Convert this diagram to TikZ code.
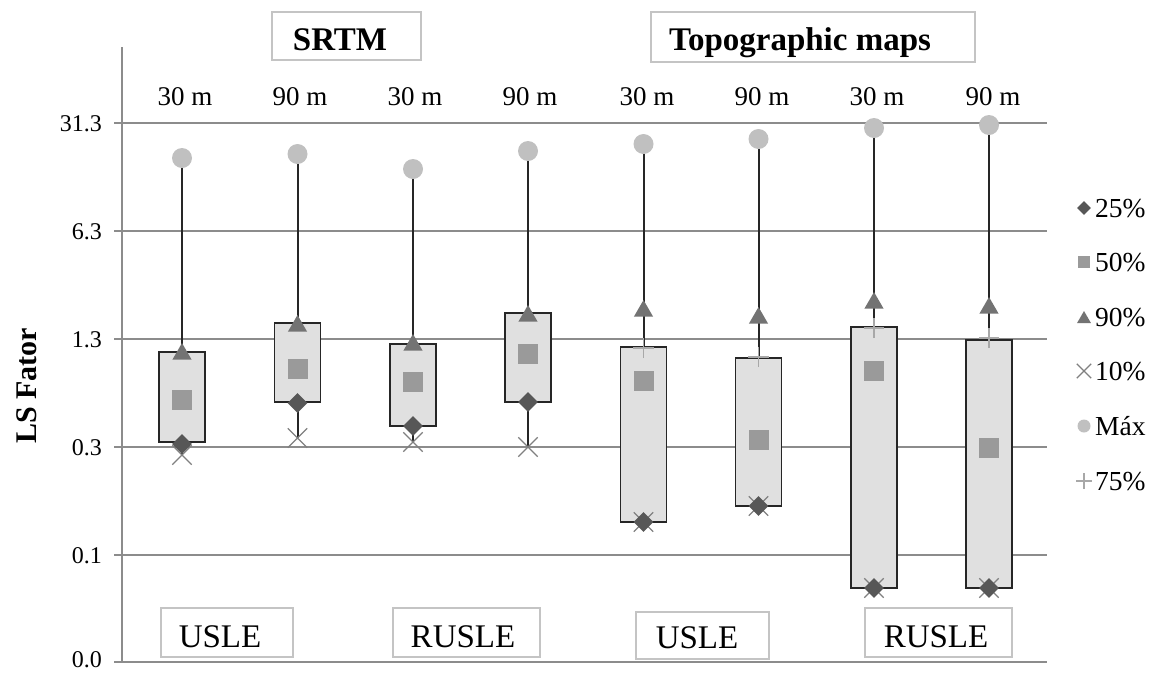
\documentclass[tikz,border=0pt]{standalone}
\usepackage{fontspec}
\setmainfont{Liberation Serif}
\usetikzlibrary{shapes.geometric,shapes.misc}
\definecolor{gridc}{HTML}{8C8C8C}
\definecolor{boxfill}{HTML}{E0E0E0}
\definecolor{c25}{HTML}{575757}
\definecolor{c50}{HTML}{9A9A9A}
\definecolor{c90}{HTML}{737373}
\definecolor{c10}{HTML}{808080}
\definecolor{cmax}{HTML}{C0C0C0}
\definecolor{c75}{HTML}{A8A8A8}
\definecolor{lbox}{HTML}{C4C4C4}
\tikzset{
  gridline/.style={draw=gridc, line width=1.6pt},
  whisker/.style={draw=black!85, line width=2pt},
  qbox/.style={draw=black!85, fill=boxfill, line width=1.8pt, minimum width=46pt, inner sep=0pt},
  m25/.style={diamond, fill=c25, minimum size=20pt, inner sep=0pt},
  m50/.style={rectangle, fill=c50, minimum size=20pt, inner sep=0pt},
  m90/.style={regular polygon, regular polygon sides=3, fill=c90, minimum size=22pt, inner sep=0pt},
  m10/.style={cross out, draw=c10, line width=1.3pt, minimum size=18pt, inner sep=0pt},
  mmax/.style={circle, fill=cmax, minimum size=20pt, inner sep=0pt},
  m75/.style={cross out, rotate=45, draw=c75, line width=1.3pt, minimum size=13pt, inner sep=0pt},
  lblbox/.style={draw=lbox, line width=1.5pt, inner sep=0pt},
  ticklbl/.style={font=\fontsize{24pt}{24pt}\selectfont, inner sep=0pt},
  collbl/.style={font=\fontsize{27pt}{27pt}\selectfont, inner sep=0pt, anchor=base},
  titlelbl/.style={font=\fontsize{33pt}{33pt}\selectfont\bfseries, inner sep=0pt, anchor=base},
  modellbl/.style={font=\fontsize{33pt}{33pt}\selectfont, inner sep=0pt, anchor=base},
  leglbl/.style={font=\fontsize{27.5pt}{27.5pt}\selectfont, inner sep=0pt, anchor=base west},
}
\begin{document}
\begin{tikzpicture}[x=1pt,y=-1pt]
\useasboundingbox (0,0) rectangle (1157,673);
% grid and axis
\foreach \y/\ly/\l in {123/124/31.3, 231/232/6.3, 339/340/1.3, 447/448/0.3, 555/556/0.1, 662/660/0.0}{
  \draw[gridline] (114,\y) -- (1047,\y);
  \node[ticklbl, anchor=east] at (102,\ly) {\l};
}
\draw[gridline] (122,47) -- (122,662);
\node[font=\fontsize{30pt}{30pt}\selectfont\bfseries, rotate=90, inner sep=0pt] (ylab) at (27,386) {LS Fator};
% titles
\node[lblbox, minimum width=149pt, minimum height=48pt] (srtmbox) at (346.5,36) {};
\node[titlelbl] (srtm) at (340,50) {SRTM};
\node[lblbox, minimum width=324pt, minimum height=50pt] (topobox) at (813,37) {};
\node[titlelbl] (topo) at (800,50) {Topographic maps};
% column labels
\foreach \i/\x/\t in {1/185/30 m, 2/300/90 m, 3/415/30 m, 4/530/90 m, 5/647/30 m, 6/762/90 m, 7/877/30 m, 8/993/90 m}{
  \node[collbl] (col\i) at (\x,105) {\t};
}
% boxes: i / x / max / tri / top / sq / bot / dia / x10
\foreach \i/\x/\mx/\tr/\tp/\sq/\bt/\dm/\xx in {
  1/182/158/354/352/400/442/444/455,
  2/297.5/154/326/323/369/402/403/438,
  3/413/169/345/344/382/426/426/442,
  4/528/151/316/313/354/402/402/447,
  5/643.5/144/311/347/381/522/522/522,
  6/758.5/139/318/358/440/506/506/506,
  7/874/128/303/327/371/588/588/588,
  8/989/125/308/340/448/588/588/588}{
  \coordinate (max\i) at (\x,\mx);
  \coordinate (min\i) at (\x,\xx);
  \draw[whisker] (max\i) -- (min\i);
  \pgfmathsetmacro\h{\bt-\tp}
  \pgfmathsetmacro\cy{(\bt+\tp)/2}
  \node[qbox, minimum height=\h pt] (box\i) at (\x,\cy) {};
  \node[m90] (p90\i) at (\x,\tr) {};
  \node[m50] (p50\i) at (\x,\sq) {};
  \node[m10] (p10\i) at (\x,\xx) {};
  \node[m25] (p25\i) at (\x,\dm) {};
  \node[mmax] (pmax\i) at (max\i) {};
}
\foreach \i/\x/\p in {5/643.5/348, 6/758.5/357, 7/874/328, 8/989/338}{
  \node[m75] (p75\i) at (\x,\p) {};
}
% model labels
\node[lblbox, minimum width=132pt, minimum height=49pt] (usle1box) at (227,632.5) {};
\node[modellbl] (usle1) at (220,647) {USLE};
\node[lblbox, minimum width=147pt, minimum height=49pt] (rusle1box) at (466.5,632.5) {};
\node[modellbl] (rusle1) at (463,647) {RUSLE};
\node[lblbox, minimum width=133pt, minimum height=47pt] (usle2box) at (702.5,635.5) {};
\node[modellbl] (usle2) at (697,648) {USLE};
\node[lblbox, minimum width=147pt, minimum height=49pt] (rusle2box) at (938.5,632.5) {};
\node[modellbl] (rusle2) at (936,647) {RUSLE};
% legend
\node[m25, minimum size=14pt] (l25) at (1084,208) {};
\node[leglbl] (t25) at (1095,217) {25\%};
\node[m50, minimum size=12pt] (l50) at (1084,262) {};
\node[leglbl] (t50) at (1095,271) {50\%};
\node[m90, minimum size=16pt] (l90) at (1084,319) {};
\node[leglbl] (t90) at (1095,326) {90\%};
\node[m10, minimum size=13pt] (l10) at (1084,371) {};
\node[leglbl] (t10) at (1095,380) {10\%};
\node[mmax, minimum size=13pt] (lmax) at (1084,426) {};
\node[leglbl] (tmax) at (1095,435) {Máx};
\node[m75, minimum size=9.5pt] (l75) at (1084,481) {};
\node[leglbl] (t75) at (1095,490) {75\%};
\end{tikzpicture}
\end{document}
